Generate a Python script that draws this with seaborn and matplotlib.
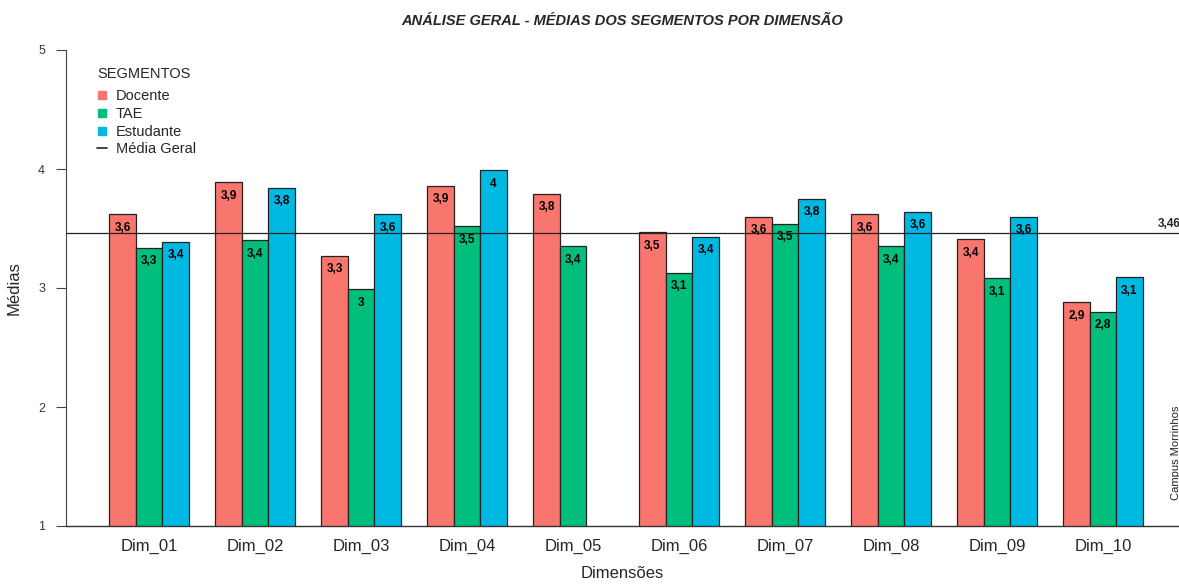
import pandas as pd
import matplotlib
matplotlib.use('Agg')
import matplotlib.pyplot as plt
import seaborn as sns
from matplotlib.lines import Line2D

### data
dimensoes = ['Dim_01', 'Dim_02', 'Dim_03', 'Dim_04', 'Dim_05',
             'Dim_06', 'Dim_07', 'Dim_08', 'Dim_09', 'Dim_10']
segmentos = ['Docente', 'TAE', 'Estudante']
docente = [3.62, 3.89, 3.27, 3.86, 3.79, 3.47, 3.60, 3.62, 3.41, 2.88]
tae = [3.34, 3.40, 2.99, 3.52, 3.35, 3.13, 3.54, 3.35, 3.08, 2.80]
estudante = [3.39, 3.84, 3.62, 3.99, None, 3.43, 3.75, 3.64, 3.60, 3.09]
media_geral = 3.46
cores = ['#F8766D', '#00BF7D', '#00B9E3']

### long dataframe for seaborn
rows = []
for seg, vals in zip(segmentos, [docente, tae, estudante]):
    for d, v in zip(dimensoes, vals):
        rows.append({'Dimensao': d, 'Segmento': seg, 'Media': v})
df = pd.DataFrame(rows)

sns.set_style('white')
plt.rcParams['font.family'] = ['Liberation Sans', 'DejaVu Sans']

fig = plt.figure(figsize=(11.79, 5.84), dpi=100)
ax = fig.add_axes([66/1179, 58/584, 1113/1179, 476/584])

sns.barplot(data=df, x='Dimensao', y='Media', hue='Segmento',
            order=dimensoes, hue_order=segmentos, palette=cores,
            width=0.75, gap=0, edgecolor='#222222', linewidth=0.9,
            saturation=1, legend=False, ax=ax)

# bar labels inside the top of each bar, R style rounding with comma
def fmt(v, nd=1):
    return ('%g' % round(v, nd)).replace('.', ',')

for cont in ax.containers:
    labs = [fmt(v) for v in cont.datavalues]
    ax.bar_label(cont, labels=labs, padding=-14, fontsize=8.5,
                 fontweight='bold', color='black')

ax.axhline(media_geral, color='#222222', linewidth=0.9, zorder=5)
ax.text(0.981, media_geral + 0.03, fmt(media_geral, 2),
        transform=ax.get_yaxis_transform(), fontsize=8.5,
        fontweight='bold', ha='left', va='bottom')
ax.text(0.997, 1.22, 'Campus Morrinhos', transform=ax.get_yaxis_transform(),
        rotation=90, fontsize=8, ha='center', va='bottom', color='#222222')

ax.set_ylim(1, 5)
ax.set_xlim(-0.783, 9.717)
ax.set_yticks([1, 2, 3, 4, 5])
ax.tick_params(axis='y', length=7, width=0.8, color='#444444',
               labelsize=9, labelcolor='#333355', pad=8, left=True)
ax.tick_params(axis='x', length=0, labelsize=12, pad=9)

for s in ['top', 'right']:
    ax.spines[s].set_visible(False)
ax.spines['left'].set_color('#444444')
ax.spines['left'].set_linewidth(0.8)
ax.spines['bottom'].set_color('#333333')
ax.spines['bottom'].set_linewidth(1.0)

ax.set_xlabel('Dimensões', fontsize=12, labelpad=9)
ax.set_ylabel('Médias', fontsize=12, labelpad=12)
ax.set_title('ANÁLISE GERAL - MÉDIAS DOS SEGMENTOS POR DIMENSÃO',
             fontsize=10.5, fontweight='bold', fontstyle='italic', pad=18)

handles = [Line2D([], [], marker='s', linestyle='none', color=c,
                  markersize=6) for c in cores]
handles.append(Line2D([], [], color='#222222', linewidth=1.2))
ax.legend(handles, segmentos + ['Média Geral'], title='SEGMENTOS',
          loc='upper left', bbox_to_anchor=(0.016, 0.982), frameon=False,
          fontsize=10.5, title_fontsize=10.5, handlelength=0.7,
          handletextpad=0.6, labelspacing=0.25, alignment='left')
ax.get_legend().get_title().set_position((0, 5))

fig.savefig('out.png', dpi=100)
